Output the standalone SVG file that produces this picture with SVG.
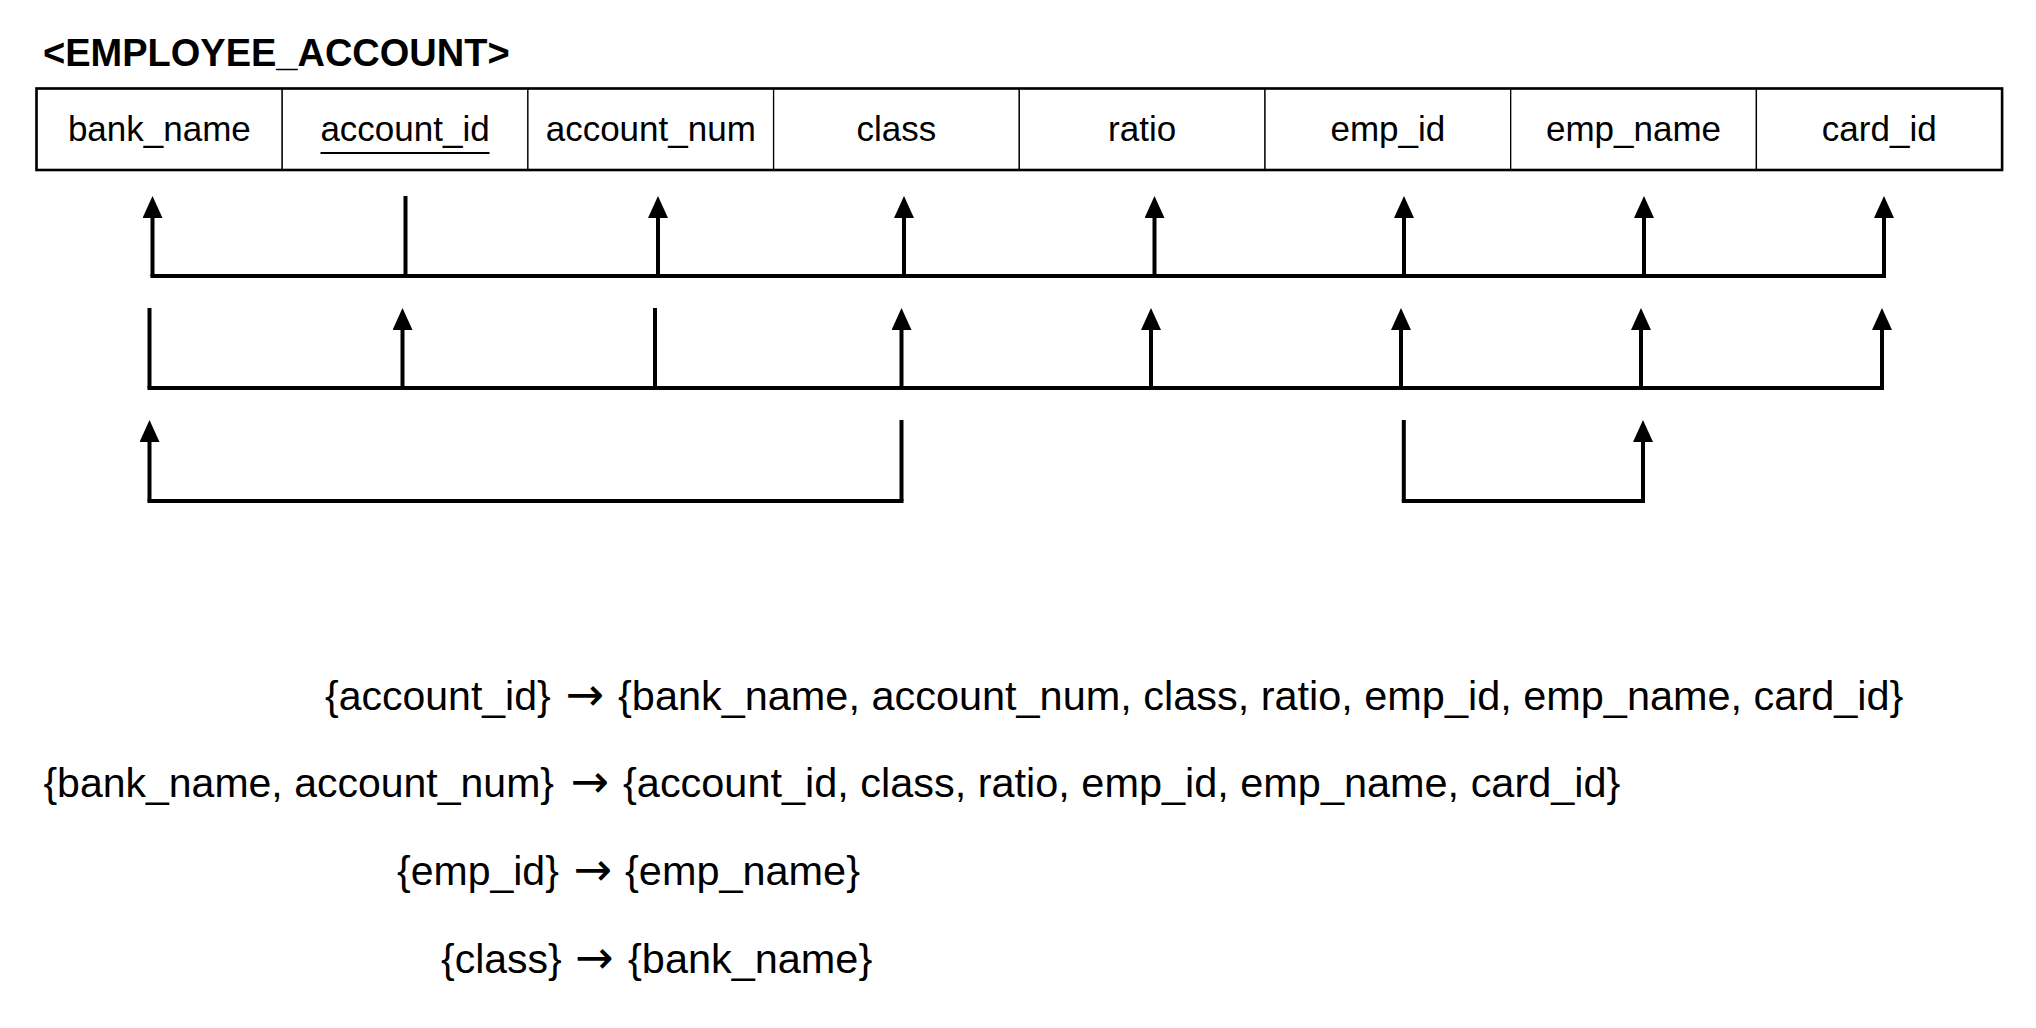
<svg xmlns="http://www.w3.org/2000/svg" width="2036" height="1028" viewBox="0 0 2036 1028">
<style>
.cell{fill:#fff;stroke:#000;stroke-width:1.3}
.outer{fill:none;stroke:#000;stroke-width:2.6}
.lbl{font-family:"Liberation Sans",Arial,Helvetica,sans-serif;font-size:35px;fill:#000;text-anchor:middle}
.title{font-family:"Liberation Sans",Arial,Helvetica,sans-serif;font-size:38px;font-weight:bold;fill:#000}
.fd{font-family:"Liberation Sans",Arial,Helvetica,sans-serif;font-size:41px;fill:#000}
.r{font-size:41.45px}
.arr{font-family:"DejaVu Sans",sans-serif;font-size:46px;text-anchor:middle}
.c{fill:none;stroke:#000;stroke-width:4}
.a{fill:none;stroke:#000;stroke-width:4;marker-end:url(#ah)}
</style>
<defs>
<marker id="ah" viewBox="0 0 22 20" refX="2" refY="10" markerWidth="22" markerHeight="20" markerUnits="userSpaceOnUse" orient="auto">
<path d="M0,0 L22,10 L0,20 z" fill="#000"/>
</marker>
</defs>
<rect width="2036" height="1028" fill="#fff"/>
<text id="title" class="title" x="43" y="66">&lt;EMPLOYEE_ACCOUNT&gt;</text>
<g id="table">
<g id="col-bank_name"><rect class="cell" x="36.5" y="88.5" width="245.7" height="81.5"/><text class="lbl" x="159.35" y="141">bank_name</text></g>
<g id="col-account_id"><rect class="cell" x="282.2" y="88.5" width="245.7" height="81.5"/><text class="lbl" x="405.05" y="141">account_id</text><line x1="320.5" y1="153" x2="489.5" y2="153" stroke="#000" stroke-width="2"/></g>
<g id="col-account_num"><rect class="cell" x="527.9" y="88.5" width="245.7" height="81.5"/><text class="lbl" x="650.75" y="141">account_num</text></g>
<g id="col-class"><rect class="cell" x="773.6" y="88.5" width="245.7" height="81.5"/><text class="lbl" x="896.45" y="141">class</text></g>
<g id="col-ratio"><rect class="cell" x="1019.3" y="88.5" width="245.7" height="81.5"/><text class="lbl" x="1142.15" y="141">ratio</text></g>
<g id="col-emp_id"><rect class="cell" x="1265" y="88.5" width="245.7" height="81.5"/><text class="lbl" x="1387.85" y="141">emp_id</text></g>
<g id="col-emp_name"><rect class="cell" x="1510.7" y="88.5" width="245.7" height="81.5"/><text class="lbl" x="1633.55" y="141">emp_name</text></g>
<g id="col-card_id"><rect class="cell" x="1756.4" y="88.5" width="245.7" height="81.5"/><text class="lbl" x="1879.25" y="141">card_id</text></g>
<rect class="outer" x="36.5" y="88.5" width="1965.6" height="81.5"/>
</g>
<g id="connectors">
<line class="c" x1="150.5" y1="276" x2="1886" y2="276"/>
<line class="a" x1="152.5" y1="276" x2="152.5" y2="216"/>
<line class="c" x1="405.5" y1="276" x2="405.5" y2="196"/>
<line class="a" x1="658" y1="276" x2="658" y2="216"/>
<line class="a" x1="904" y1="276" x2="904" y2="216"/>
<line class="a" x1="1154.5" y1="276" x2="1154.5" y2="216"/>
<line class="a" x1="1404" y1="276" x2="1404" y2="216"/>
<line class="a" x1="1644" y1="276" x2="1644" y2="216"/>
<line class="a" x1="1884" y1="276" x2="1884" y2="216"/>
<line class="c" x1="147.5" y1="388" x2="1884" y2="388"/>
<line class="c" x1="149.5" y1="388" x2="149.5" y2="308"/>
<line class="a" x1="402.5" y1="388" x2="402.5" y2="328"/>
<line class="c" x1="655" y1="388" x2="655" y2="308"/>
<line class="a" x1="901.5" y1="388" x2="901.5" y2="328"/>
<line class="a" x1="1151" y1="388" x2="1151" y2="328"/>
<line class="a" x1="1401" y1="388" x2="1401" y2="328"/>
<line class="a" x1="1641" y1="388" x2="1641" y2="328"/>
<line class="a" x1="1882" y1="388" x2="1882" y2="328"/>
<line class="c" x1="147.5" y1="501" x2="903.5" y2="501"/>
<line class="a" x1="149.5" y1="501" x2="149.5" y2="440"/>
<line class="c" x1="901.5" y1="501" x2="901.5" y2="420"/>
<line class="c" x1="1401.8" y1="501" x2="1645" y2="501"/>
<line class="c" x1="1403.8" y1="501" x2="1403.8" y2="420"/>
<line class="a" x1="1643" y1="501" x2="1643" y2="440"/>
</g>
<g id="fds">
<text class="fd" y="710"><tspan x="325">{account_id}</tspan><tspan class="arr" x="585">→</tspan><tspan class="r" x="618">{bank_name, account_num, class, ratio, emp_id, emp_name, card_id}</tspan></text>
<text class="fd" y="797"><tspan x="43.4">{bank_name, account_num}</tspan><tspan class="arr" x="590">→</tspan><tspan class="r" x="623">{account_id, class, ratio, emp_id, emp_name, card_id}</tspan></text>
<text class="fd" y="885"><tspan x="397">{emp_id}</tspan><tspan class="arr" x="593">→</tspan><tspan class="r" x="625">{emp_name}</tspan></text>
<text class="fd" y="973"><tspan x="441">{class}</tspan><tspan class="arr" x="594.5">→</tspan><tspan class="r" x="628">{bank_name}</tspan></text>
</g>
</svg>
